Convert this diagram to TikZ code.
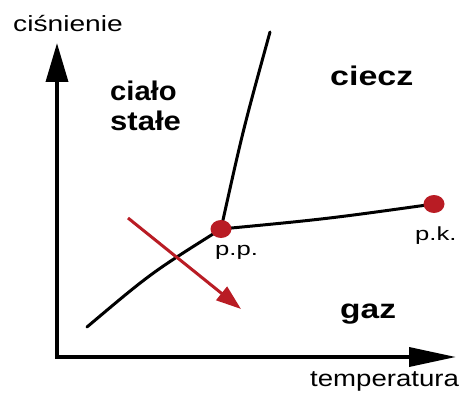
\documentclass[tikz,border=0pt]{standalone}
\usepackage{fontspec}
\setmainfont{Liberation Sans}
\usetikzlibrary{arrows.meta,shapes.geometric}
\definecolor{ppred}{RGB}{185,28,36}
\newcommand{\wide}[2]{\scalebox{#1}[1]{#2}}
\tikzset{
	axisline/.style={line width=3.6pt, line join=miter},
	curveline/.style={line width=3pt, line cap=round},
	ptdot/.style={ellipse, fill=ppred, inner sep=0pt, minimum width=21pt, minimum height=18pt},
	phase/.style={font=\bfseries\fontsize{27}{32}\selectfont, inner sep=0pt, anchor=base west},
	axlabel/.style={font=\fontsize{22}{26}\selectfont, inner sep=0pt, anchor=base west},
	ptlabel/.style={font=\fontsize{19}{22}\selectfont, inner sep=0pt, anchor=base west}
}
\begin{document}
\begin{tikzpicture}[x=1pt, y=-1pt, line join=round]
	\useasboundingbox (0,0) rectangle (461,396);
	
	% osie
	\coordinate (O) at (57,357);
	\coordinate (ytop) at (57,43);
	\coordinate (xend) at (456,357);
	\draw[axisline, {Triangle[length=39pt,width=22pt]}-{Triangle[length=47pt,width=19pt]}]
	(ytop) -- (O) -- (xend);
	\node[axlabel] (pres) at (13,32) {\wide{1.28}{ciśnienie}};
	\node[axlabel, font=\fontsize{23}{27}\selectfont] (temp) at (310,386) {\wide{1.2}{temperatura}};
	
	% krzywe równowagi
	\coordinate (tp) at (221,229);
	\coordinate (cp) at (434,204);
	\coordinate (sub0) at (87,327);
	\coordinate (melt1) at (270,32);
	\draw[curveline] (sub0) .. controls (151,273) .. (tp);
	\draw[curveline] (tp) .. controls (243,130) .. (melt1);
	\draw[curveline] (tp) .. controls (326,219) .. (cp);
	
	% punkty
	\node[ptdot] (pp) at (tp) {};
	\node[ptdot] (pk) at (cp) {};
	\node[ptlabel] (pplbl) at (215,255) {\wide{1.35}{p.p.}};
	\node[ptlabel] (pklbl) at (415,240) {\wide{1.35}{p.k.}};
	
	% strzałka
	\coordinate (a0) at (128,218);
	\coordinate (a1) at (241,309);
	\draw[ppred, line width=3pt, -{Triangle[length=25pt,width=17pt]}] (a0) -- (a1);
	
	% fazy
	\node[phase] (solid1) at (110,100) {\wide{1.08}{ciało}};
	\node[phase] (solid2) at (110,131) {\wide{1.15}{stałe}};
	\node[phase] (liquid) at (330,86) {\wide{1.26}{ciecz}};
	\node[phase] (gas) at (340,318) {\wide{1.24}{gaz}};
	
\end{tikzpicture}
\end{document}
